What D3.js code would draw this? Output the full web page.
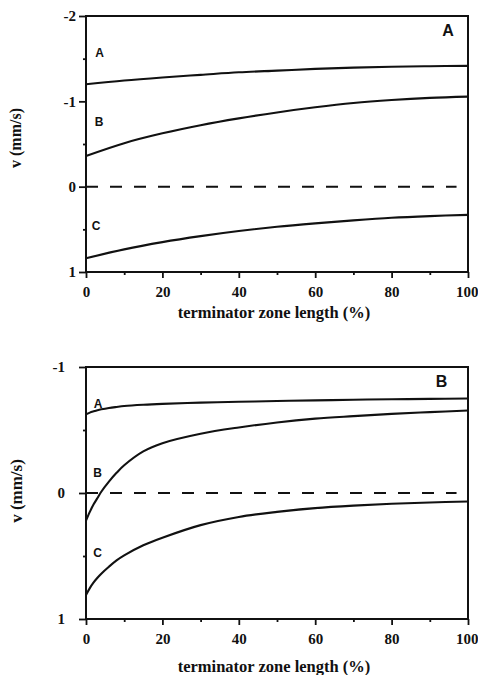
<!DOCTYPE html>
<html><head><meta charset="utf-8">
<script src="https://cdn.jsdelivr.net/npm/d3@7"></script>
<style>
body{margin:0;background:#fff;}
svg{display:block;}
</style></head>
<body>
<script>
// ---- data ----
const xTop = [0,10,20,30,40,50,60,70,80,90,100];
const topA = [-1.20,-1.245,-1.28,-1.31,-1.34,-1.36,-1.38,-1.395,-1.405,-1.412,-1.415];
const topB = [-0.36,-0.51,-0.625,-0.72,-0.80,-0.87,-0.93,-0.98,-1.015,-1.04,-1.055];
const topC = [0.84,0.735,0.65,0.58,0.52,0.47,0.43,0.395,0.365,0.345,0.33];

const xBot = [0,1,2,3,4,6,8,10,15,20,30,40,50,60,70,80,90,100];
const botA = [-0.625,-0.638,-0.648,-0.657,-0.664,-0.675,-0.683,-0.69,-0.70,-0.707,-0.717,-0.724,-0.73,-0.735,-0.74,-0.744,-0.747,-0.75];
const botB = [0.22,0.15,0.09,0.04,-0.01,-0.09,-0.16,-0.22,-0.33,-0.395,-0.47,-0.52,-0.56,-0.59,-0.61,-0.628,-0.642,-0.655];
const botC = [0.81,0.755,0.71,0.673,0.64,0.585,0.535,0.495,0.415,0.355,0.255,0.19,0.15,0.12,0.10,0.085,0.075,0.068];

const xTicks = [0,20,40,60,80,100];
const xMinor = [10,30,50,70,90];
const topYTicks = [-2,-1,0,1];
const topYMinor = [-1.5,-0.5,0.5];
const botYTicks = [-1,0,1];
const botYMinor = [-0.5,0.5];
const curveLabels = ["A","B","C"];
const xTitle = "terminator zone length (%)";
const yTitle = "v (mm/s)";

const W = 478, H = 675;
const svg = d3.select("body").append("svg").attr("width",W).attr("height",H);
const serif = "'Liberation Serif', 'Times New Roman', serif";

function panel(cfg){
  const g = svg.append("g");
  const x = d3.scaleLinear().domain([0,100]).range([86,468]);
  const y = d3.scaleLinear().domain(cfg.yDomain).range(cfg.yRange);

  // zero dashed line
  g.append("line").attr("x1",x(0)).attr("x2",x(97)).attr("y1",y(0)).attr("y2",y(0))
    .attr("stroke","#111").attr("stroke-width",2).attr("stroke-dasharray","12,12");

  // curves
  const line = d3.line().x(d=>x(d[0])).y(d=>y(d[1])).curve(d3.curveCatmullRom.alpha(0.5));
  cfg.series.forEach(s=>{
    g.append("path").datum(cfg.xs.map((v,i)=>[v,s[i]])).attr("d",line)
      .attr("fill","none").attr("stroke","#111").attr("stroke-width",2.1);
  });

  // frame
  g.append("rect").attr("x",x(0)).attr("y",y(cfg.yDomain[0]))
    .attr("width",x(100)-x(0)).attr("height",y(cfg.yDomain[1])-y(cfg.yDomain[0]))
    .attr("fill","none").attr("stroke","#111").attr("stroke-width",2);

  // axes
  const ax = g.append("g").attr("transform",`translate(0,${y(cfg.yDomain[1])})`)
    .call(d3.axisBottom(x).tickValues(xTicks).tickSize(6).tickPadding(8).tickFormat(d3.format("d")));
  const axm = g.append("g").attr("transform",`translate(0,${y(cfg.yDomain[1])})`)
    .call(d3.axisBottom(x).tickValues(xMinor).tickSize(3).tickFormat(""));
  const ay = g.append("g").attr("transform",`translate(${x(0)},0)`)
    .call(d3.axisLeft(y).tickValues(cfg.yTicks).tickSize(7).tickPadding(cfg.yPad).tickFormat(d=> d<0 ? "-"+Math.abs(d) : String(d)));
  const aym = g.append("g").attr("transform",`translate(${x(0)},0)`)
    .call(d3.axisLeft(y).tickValues(cfg.yMinor).tickSize(3).tickFormat(""));
  [ax,axm,ay,aym].forEach(a=>{
    a.select(".domain").remove();
    a.selectAll("line").attr("stroke","#111").attr("stroke-width",1.8);
    a.selectAll("text").attr("font-family",serif).attr("font-weight","bold")
      .attr("font-size",15).attr("fill","#111");
  });
  // keep the "100" label inside the window
  ax.selectAll(".tick").filter(d=>d===100).select("text").attr("text-anchor","end").attr("x",10);

  // curve labels
  cfg.labelPos.forEach((p,i)=>{
    g.append("text").attr("x",p[0]).attr("y",p[1]).attr("text-anchor","middle")
      .attr("font-family","'Liberation Sans', Arial, sans-serif").attr("font-weight","bold")
      .attr("font-size",12).attr("fill","#111").text(curveLabels[i]);
  });

  // panel letter
  g.append("text").attr("x",cfg.panelPos[0]).attr("y",cfg.panelPos[1]).attr("text-anchor","middle")
    .attr("font-family","'Liberation Sans', Arial, sans-serif").attr("font-weight","900")
    .attr("font-size",16).attr("fill","#111").text(cfg.panel);

  // titles
  g.append("text").attr("x",274).attr("y",cfg.xTitleY).attr("text-anchor","middle")
    .attr("font-family",serif).attr("font-weight","bold").attr("font-size",16.5)
    .attr("fill","#111").text(xTitle);
  g.append("text").attr("transform",`translate(${cfg.yTitlePos[0]},${cfg.yTitlePos[1]}) rotate(-90)`)
    .attr("text-anchor","middle").attr("dominant-baseline","central")
    .attr("font-family",serif).attr("font-weight","bold").attr("font-size",cfg.yTitleSize)
    .attr("fill","#111").text(yTitle);
}

panel({yDomain:[-2,1], yRange:[16,272], xs:xTop, series:[topA,topB,topC],
  yTicks:topYTicks, yMinor:topYMinor, yPad:3,
  labelPos:[[99.5,57],[99,126],[96,230]], panel:"A", panelPos:[448,36],
  xTitleY:318, yTitlePos:[15,138], yTitleSize:16});

panel({yDomain:[-1,1], yRange:[367,619], xs:xBot, series:[botA,botB,botC],
  yTicks:botYTicks, yMinor:botYMinor, yPad:14,
  labelPos:[[98,408],[97.5,477],[97.5,557]], panel:"B", panelPos:[441.5,387],
  xTitleY:672, yTitlePos:[16,491], yTitleSize:17});
</script>
</body></html>
